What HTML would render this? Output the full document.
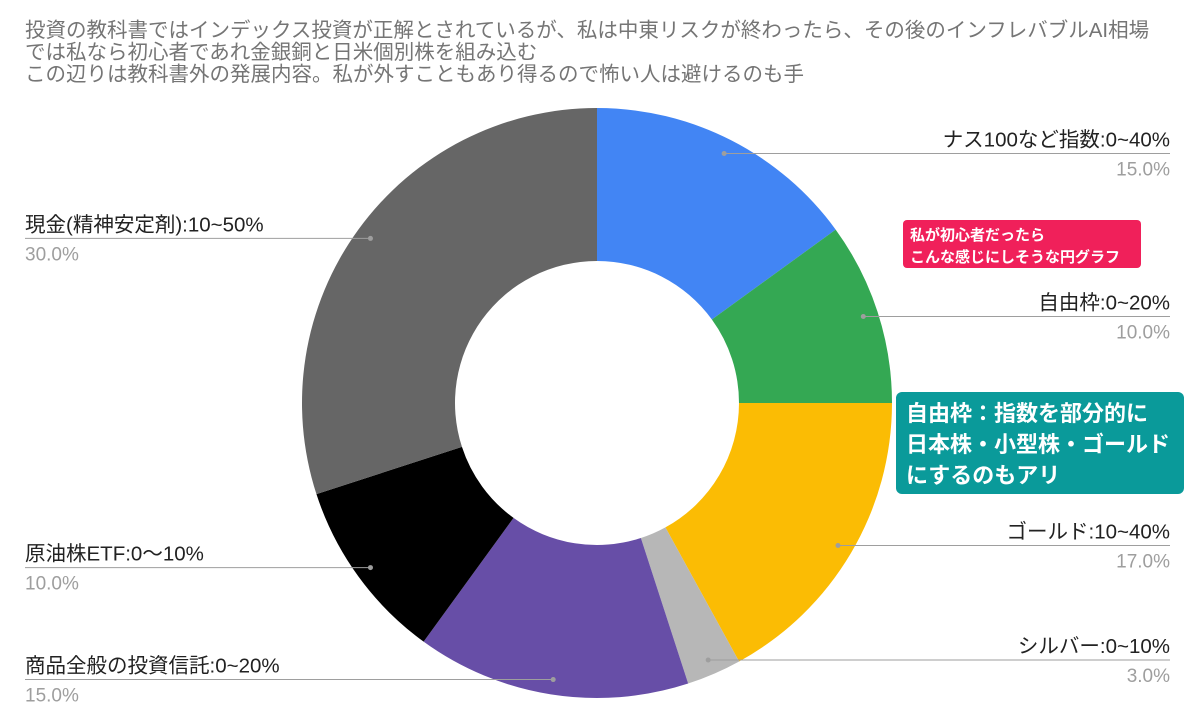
<!DOCTYPE html>
<html><head><meta charset="utf-8"><style>
body{margin:0;width:1200px;height:723px;background:#fff;overflow:hidden;font-family:"Liberation Sans","Noto Sans CJK JP",sans-serif;}
svg{position:absolute;left:0;top:0}
.t{font-size:20.5px;fill:#757575}
.lab{font-size:20.5px;fill:#222}
.pct{font-size:19px;fill:#9e9e9e}
</style></head><body>
<svg id="c" width="1200" height="723">
<text class="t" x="25" y="37">投資の教科書ではインデックス投資が正解とされているが、私は中東リスクが終わったら、その後のインフレバブルAI相場</text>
<text class="t" x="25" y="59">では私なら初心者であれ金銀銅と日米個別株を組み込む</text>
<text class="t" x="25" y="81">この辺りは教科書外の発展内容。私が外すこともあり得るので怖い人は避けるのも手</text>
<g id="slices"></g>
<g id="labels"></g>
<g>
<rect x="903" y="220" width="238" height="48" rx="4" fill="#f0205a"/>
<text x="910" y="240" font-size="15" font-weight="bold" fill="#fff">私が初心者だったら</text>
<text x="910" y="262" font-size="15" font-weight="bold" fill="#fff">こんな感じにしそうな円グラフ</text>
</g>
<g>
<rect x="896" y="392" width="288" height="102" rx="6" fill="#0a9a9a"/>
<text x="906" y="421" font-size="22" font-weight="bold" fill="#fff">自由枠：指数を部分的に</text>
<text x="906" y="452" font-size="22" font-weight="bold" fill="#fff">日本株・小型株・ゴールド</text>
<text x="906" y="483" font-size="22" font-weight="bold" fill="#fff">にするのもアリ</text>
</g>
</svg>
<script>
const categories=["ナス100など指数:0~40%","自由枠:0~20%","ゴールド:10~40%","シルバー:0~10%","商品全般の投資信託:0~20%","原油株ETF:0〜10%","現金(精神安定剤):10~50%"];
const values=[15,10,17,3,15,10,30];
const pctLabels=["15.0%","10.0%","17.0%","3.0%","15.0%","10.0%","30.0%"];
const colors=["#4285f4","#34a853","#fbbc04","#b7b7b7","#674ea7","#000000","#666666"];
const cx=597,cy=403,R=295,r=142,ns="http://www.w3.org/2000/svg";
const total=values.reduce((a,b)=>a+b,0);
function pt(a,rad){return [cx+rad*Math.sin(a),cy-rad*Math.cos(a)];}
let acc=0;
const sg=document.getElementById('slices'),lg=document.getElementById('labels');
values.forEach((v,i)=>{
 const a0=acc/total*2*Math.PI;acc+=v;const a1=acc/total*2*Math.PI;
 const big=(a1-a0)>Math.PI?1:0;
 const [x0,y0]=pt(a0,R),[x1,y1]=pt(a1,R),[x2,y2]=pt(a1,r),[x3,y3]=pt(a0,r);
 const p=document.createElementNS(ns,'path');
 p.setAttribute('d',`M${x0},${y0}A${R},${R} 0 ${big} 1 ${x1},${y1}L${x2},${y2}A${r},${r} 0 ${big} 0 ${x3},${y3}Z`);
 p.setAttribute('fill',colors[i]);
 
 
 sg.appendChild(p);
 const am=(a0+a1)/2;const [dx,dy]=pt(am,280);
 const right=Math.sin(am)>=0;
 const lx=right?1170:25;
 const g=document.createElementNS(ns,'g');
 
 
 const ln=document.createElementNS(ns,'line');
 ln.setAttribute('x1',lx);ln.setAttribute('x2',dx);ln.setAttribute('y1',dy);ln.setAttribute('y2',dy);
 ln.setAttribute('stroke','#9e9e9e');ln.setAttribute('stroke-width','1');
 g.appendChild(ln);
 const c=document.createElementNS(ns,'circle');
 c.setAttribute('cx',dx);c.setAttribute('cy',dy);c.setAttribute('r',2.5);c.setAttribute('fill','#9e9e9e');
 g.appendChild(c);
 const t=document.createElementNS(ns,'text');
 t.setAttribute('class','lab');t.setAttribute('x',lx);t.setAttribute('y',dy-7);
 t.setAttribute('text-anchor',right?'end':'start');t.textContent=categories[i];
 g.appendChild(t);
 const t2=document.createElementNS(ns,'text');
 t2.setAttribute('class','pct');t2.setAttribute('x',lx);t2.setAttribute('y',dy+22);
 t2.setAttribute('text-anchor',right?'end':'start');t2.textContent=pctLabels[i];
 g.appendChild(t2);
 lg.appendChild(g);
});
</script>
</body></html>
